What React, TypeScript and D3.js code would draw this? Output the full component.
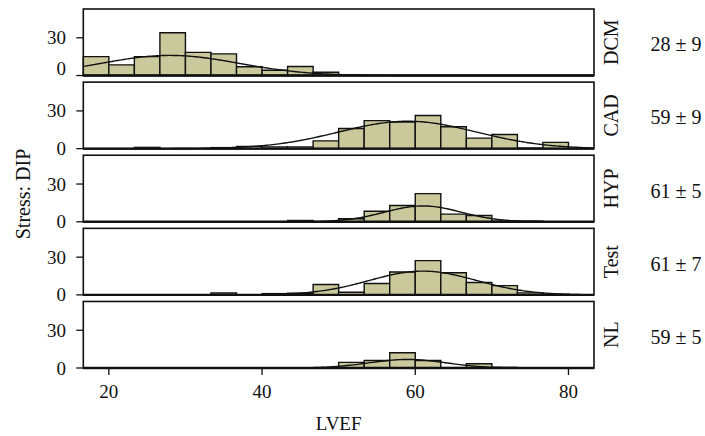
import * as React from 'react';
import * as d3 from 'd3';

// LVEF histograms by group, stress DIP
const groups = ['DCM', 'CAD', 'HYP', 'Test', 'NL'];
const statLabels = ['28 ± 9', '59 ± 9', '61 ± 5', '61 ± 7', '59 ± 5'];

const binWidth = 10 / 3;
const binStarts = [16.667, 20, 23.333, 26.667, 30, 33.333, 36.667, 40, 43.333, 46.667,
  50, 53.333, 56.667, 60, 63.333, 66.667, 70, 73.333, 76.667, 80];

const dcmCounts = [15, 8.5, 15, 34, 18.4, 17.2, 7, 4.2, 7.2, 2.6, 0.3, 0, 0, 0, 0, 0, 0, 0, 0, 0];
const cadCounts = [0, 0, 1, 0, 0, 0.8, 1.8, 1.4, 1.4, 6.2, 16, 22.3, 21.2, 26.3, 17.4, 8.4, 11.3, 0.4, 5, 0];
const hypCounts = [0, 0, 0, 0, 0, 0, 0, 0, 1, 0, 2.4, 8.4, 12.9, 22.4, 6.1, 5, 0.5, 0.5, 0, 0];
const testCounts = [0, 0, 0, 0, 0, 1.5, 0, 1, 1.3, 8.2, 2.1, 9, 18.2, 27.2, 17.6, 9.8, 7.4, 1.6, 0.4, 0];
const nlCounts = [0, 0, 0, 0, 0, 0, 0, 0, 0, 0, 4.5, 6, 12.1, 6, 0.3, 3.4, 0.5, 0, 0, 0];
const groupCounts = [dcmCounts, cadCounts, hypCounts, testCounts, nlCounts];

// fitted normal curves (mean, sd, peak height)
const fitMeans = [28, 59, 61, 61, 59];
const fitSds = [9, 9, 5, 7, 5];
const fitPeaks = [16, 21.8, 12.6, 18.9, 6.8];

const xTicks = [20, 40, 60, 80];
const yTicks = [0, 30];

const W = 705;
const H = 436;
const FONT = '"Liberation Serif", "Times New Roman", serif';
const BAR_FILL = '#c9c99c';
const INK = '#111';

export default function App() {
  const left = 83.3;
  const right = 594;

  const x = d3.scaleLinear()
    .domain([binStarts[0], binStarts[binStarts.length - 1] + binWidth])
    .range([left, right]);

  const panels = d3.scaleBand<string>()
    .domain(groups)
    .range([9, 368])
    .paddingInner(0.09);
  const ph = panels.bandwidth();

  const samples = d3.range(0, 241).map((i) => x.domain()[0] + (x.domain()[1] - x.domain()[0]) * i / 240);

  return (
    <svg width={W} height={H} style={{position: 'absolute', left: 0, top: 0, background: '#fff'}}
         fontFamily={FONT}>
      {groups.map((g, gi) => {
        const top = panels(g)!;
        const bottom = top + ph;
        const y = d3.scaleLinear().domain([0, 52.9]).range([bottom, top]);
        const counts = groupCounts[gi];
        const curve = d3.line<number>()
          .x((d) => x(d))
          .y((d) => y(fitPeaks[gi] * Math.exp(-((d - fitMeans[gi]) ** 2) / (2 * fitSds[gi] ** 2))))
          .curve(d3.curveBasis);
        const mid = top + ph / 2;
        return (
          <g key={g}>
            {counts.map((c, i) => {
              const x0 = x(binStarts[i]);
              const x1 = x(binStarts[i] + binWidth);
              return <path key={i}
                d={`M${x0},${y(0)}V${y(c)}H${x1}V${y(0)}Z`}
                fill={BAR_FILL} stroke={INK} strokeWidth={1.4} />;
            })}
            <path d={curve(samples) || ''} fill="none" stroke={INK} strokeWidth={1.4} />
            <rect x={left} y={top} width={right - left} height={ph}
                  fill="none" stroke={INK} strokeWidth={1.6} />
            <line x1={left} x2={right} y1={bottom} y2={bottom} stroke={INK} strokeWidth={2.4} />
            {yTicks.map((t) => (
              <g key={t}>
                <line x1={left - 7} x2={left} y1={y(t)} y2={y(t)} stroke={INK} strokeWidth={1.3} />
                <text x={66} y={y(t)} dy={gi === 0 && t === 0 ? -7.5 : 0}
                      textAnchor="end" dominantBaseline="central" fontSize={19} fill={INK}>{t}</text>
              </g>
            ))}
            <text transform={`translate(618, ${mid}) rotate(-90)`} textAnchor="middle"
                  fontSize={20} fill={INK}>{g}</text>
            <text x={676} y={mid + 9} textAnchor="middle" fontSize={20} fill={INK}>{statLabels[gi]}</text>
          </g>
        );
      })}
      {xTicks.map((t) => (
        <g key={t}>
          <line x1={x(t)} x2={x(t)} y1={368} y2={375} stroke={INK} strokeWidth={1.3} />
          <text x={x(t)} y={398} textAnchor="middle" fontSize={19} fill={INK}>{t}</text>
        </g>
      ))}
      <text x={(left + right) / 2} y={430} textAnchor="middle" fontSize={19} fill={INK}>LVEF</text>
      <text transform="translate(30, 194) rotate(-90)" textAnchor="middle" fontSize={20} fill={INK}>
        Stress: DIP
      </text>
    </svg>
  );
}
